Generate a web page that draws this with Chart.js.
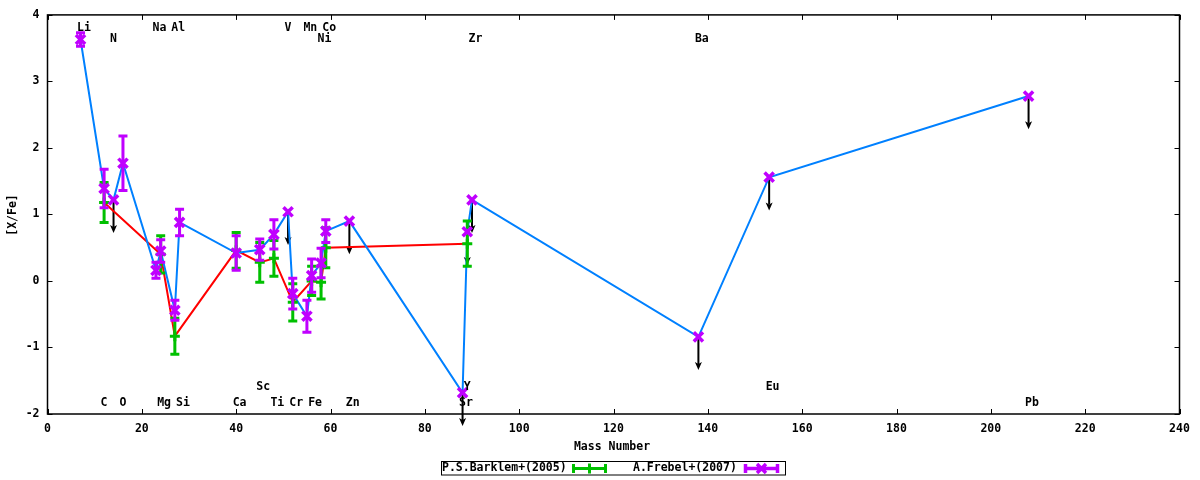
<!DOCTYPE html>
<html><head><meta charset="utf-8">
<script src="https://cdn.jsdelivr.net/npm/chart.js@4/dist/chart.umd.min.js"></script>
<style>html,body{margin:0;padding:0;background:#fff;overflow:hidden}#wrap{width:1200px;height:480px}</style>
</head><body><div id="wrap"><canvas id="c" width="1200" height="480"></canvas></div>
<script>
// ---- data ----
const frebelMass  = [7, 12, 14, 16, 23, 24, 27, 28, 40, 45, 48, 51, 52, 55, 56, 58, 59, 64, 88, 89, 90, 138, 153, 208];
const frebelVal   = [3.63, 1.39, 1.22, 1.77, 0.16, 0.45, -0.44, 0.88, 0.42, 0.47, 0.70, 1.04, -0.19, -0.53, 0.08, 0.27, 0.75, 0.90, -1.68, 0.74, 1.22, -0.84, 1.56, 2.78];
const frebelErr   = [0.10, 0.29, 0, 0.41, 0.12, 0.17, 0.15, 0.20, 0.26, 0.16, 0.22, 0, 0.23, 0.24, 0.25, 0.22, 0.17, 0, 0, 0, 0, 0, 0, 0];
const frebelUpper = [0, 0, 1, 0, 0, 0, 0, 0, 0, 0, 0, 1, 0, 0, 0, 0, 0, 1, 1, 1, 1, 1, 1, 1];

const barklemMass = [12, 24, 27, 40, 45, 48, 52, 56, 58, 59, 89];
const barklemVal  = [1.18, 0.40, -0.83, 0.46, 0.28, 0.34, -0.32, 0.00, -0.02, 0.50, 0.56];
const barklemErr  = [0.30, 0.28, 0.27, 0.27, 0.30, 0.27, 0.28, 0.22, 0.25, 0.30, 0.34];

const labelText = ['Li','Na','Al','V','Mn','Co','N','Ni','Zr','Ba','Sc','Y','Eu','C','O','Mg','Si','Ca','Ti','Cr','Fe','Zn','Sr','Pb'];
const labelMass = [7, 23, 27, 51, 55, 59, 14, 58, 90, 138, 45, 89, 153, 12, 16, 24, 28, 40, 48, 52, 56, 64, 88, 208];
const labelRow  = [0, 0, 0, 0, 0, 0, 1, 1, 1, 1, 2, 2, 2, 3, 3, 3, 3, 3, 3, 3, 3, 3, 3, 3];

const xTicks = [0, 20, 40, 60, 80, 100, 120, 140, 160, 180, 200, 220, 240];
const yTicks = [-2, -1, 0, 1, 2, 3, 4];
const upperLimitLength = 0.5;

// ---- styles ----
const FONT_FAMILY = '"DejaVu Sans Mono", monospace';
const FONT = 'bold 11.5px ' + FONT_FAMILY;
const C_RED = '#ff0000', C_GREEN = '#00c000', C_BLUE = '#0080ff', C_PURPLE = '#c000ff';
const ROW_Y = [3.81, 3.63, -1.60, -1.84];

const frebelPts = frebelMass.map((m, i) => ({x: m, y: frebelVal[i]}));
const barklemPts = barklemMass.map((m, i) => ({x: m, y: barklemVal[i]}));

const deco = {
  id: 'deco',
  beforeDatasetsDraw(chart) {
    const {ctx} = chart, xs = chart.scales.x, ys = chart.scales.y;
    ctx.save();
    ctx.strokeStyle = '#000'; ctx.fillStyle = '#000'; ctx.lineWidth = 2;
    frebelMass.forEach((m, i) => {
      if (!frebelUpper[i]) return;
      const X = xs.getPixelForValue(m);
      const y0 = ys.getPixelForValue(frebelVal[i]);
      const y1 = ys.getPixelForValue(frebelVal[i] - upperLimitLength);
      ctx.beginPath(); ctx.moveTo(X, y0); ctx.lineTo(X, y1 - 6); ctx.stroke();
      ctx.beginPath(); ctx.moveTo(X, y1); ctx.lineTo(X - 3.5, y1 - 8); ctx.lineTo(X, y1 - 6); ctx.lineTo(X + 3.5, y1 - 8); ctx.closePath(); ctx.fill();
    });
    ctx.restore();
  },
  beforeDatasetDraw(chart, args) {
    const ds = chart.data.datasets[args.index];
    if (!ds.errs) return;
    const {ctx} = chart, xs = chart.scales.x, ys = chart.scales.y;
    ctx.save();
    ctx.strokeStyle = ds.borderColor; ctx.lineWidth = 3; ctx.lineCap = 'butt';
    ds.data.forEach((p, i) => {
      const e = ds.errs[i]; if (!e) return;
      const X = xs.getPixelForValue(p.x);
      const a = ys.getPixelForValue(p.y + e), b = ys.getPixelForValue(p.y - e);
      ctx.beginPath();
      ctx.moveTo(X, a); ctx.lineTo(X, b);
      ctx.moveTo(X - 4.5, a); ctx.lineTo(X + 4.5, a);
      ctx.moveTo(X - 4.5, b); ctx.lineTo(X + 4.5, b);
      ctx.stroke();
    });
    ctx.restore();
  },
  afterDraw(chart) {
    const {ctx, chartArea: ca} = chart, xs = chart.scales.x, ys = chart.scales.y;
    ctx.save();
    // ticks (inward, mirrored)
    ctx.strokeStyle = '#000'; ctx.lineWidth = 1;
    ctx.beginPath();
    xTicks.forEach(v => { const X = Math.round(xs.getPixelForValue(v)) + 0.5;
      ctx.moveTo(X, ca.bottom); ctx.lineTo(X, ca.bottom - 5);
      ctx.moveTo(X, ca.top); ctx.lineTo(X, ca.top + 5); });
    yTicks.forEach(v => { const Y = Math.round(ys.getPixelForValue(v)) + 0.5;
      ctx.moveTo(ca.left, Y); ctx.lineTo(ca.left + 5, Y);
      ctx.moveTo(ca.right, Y); ctx.lineTo(ca.right - 5, Y); });
    ctx.stroke();
    // border
    ctx.lineWidth = 1.5;
    ctx.strokeRect(ca.left, ca.top, ca.right - ca.left, ca.bottom - ca.top);
    // element labels
    ctx.font = FONT; ctx.fillStyle = '#000'; ctx.textBaseline = 'middle'; ctx.textAlign = 'left';
    labelText.forEach((t, i) => {
      ctx.fillText(t, xs.getPixelForValue(labelMass[i]) - 3.5, ys.getPixelForValue(ROW_Y[labelRow[i]]));
    });
    // axis titles
    ctx.textAlign = 'center';
    ctx.fillText('Mass Number', 612, 447);
    ctx.save(); ctx.translate(13, 215); ctx.rotate(-Math.PI / 2); ctx.fillText('[X/Fe]', 0, 0); ctx.restore();
    // legend
    ctx.lineWidth = 1; ctx.strokeStyle = '#000';
    ctx.strokeRect(441.5, 461.5, 344, 13.5);
    ctx.textAlign = 'left';
    ctx.fillText('P.S.Barklem+(2005)', 442, 468.5);
    ctx.fillText('A.Frebel+(2007)', 633, 468.5);
    const sample = (x0, x1, col, plus) => {
      const y = 468.5, xm = (x0 + x1) / 2;
      ctx.strokeStyle = col; ctx.lineWidth = 3;
      ctx.beginPath();
      ctx.moveTo(x0, y); ctx.lineTo(x1, y);
      ctx.moveTo(x0 + 1.5, y - 4.5); ctx.lineTo(x0 + 1.5, y + 4.5);
      ctx.moveTo(x1 - 1.5, y - 4.5); ctx.lineTo(x1 - 1.5, y + 4.5);
      if (plus) { ctx.moveTo(xm, y - 5); ctx.lineTo(xm, y + 5); }
      else { ctx.lineWidth = 3.5; ctx.moveTo(xm - 4.5, y - 4.5); ctx.lineTo(xm + 4.5, y + 4.5); ctx.moveTo(xm - 4.5, y + 4.5); ctx.lineTo(xm + 4.5, y - 4.5); }
      ctx.stroke();
    };
    sample(572, 607, C_GREEN, true);
    sample(744, 779, C_PURPLE, false);
    ctx.restore();
  }
};

new Chart(document.getElementById('c'), {
  type: 'scatter',
  data: { datasets: [
    { label: 'A.Frebel+(2007)', data: frebelPts, errs: frebelErr, pointStyle: 'crossRot', pointRadius: 6.5,
      borderColor: C_PURPLE, backgroundColor: C_PURPLE, borderWidth: 3.5, showLine: false },
    { label: 'P.S.Barklem+(2005)', data: barklemPts, errs: barklemErr, pointStyle: 'cross', pointRadius: 5,
      borderColor: C_GREEN, backgroundColor: C_GREEN, borderWidth: 3, showLine: false },
    { label: 'frebel line', data: frebelPts, showLine: true, borderColor: C_BLUE, borderWidth: 2, pointRadius: 0, tension: 0, fill: false },
    { label: 'barklem line', data: barklemPts, showLine: true, borderColor: C_RED, borderWidth: 2, pointRadius: 0, tension: 0, fill: false }
  ]},
  options: {
    responsive: false, animation: false, devicePixelRatio: 1, events: [],
    layout: { padding: { top: 14, right: 20.5, left: 0, bottom: 0 } },
    plugins: { legend: { display: false }, tooltip: { enabled: false } },
    scales: {
      x: { type: 'linear', min: 0, max: 240,
        afterFit: s => { s.height = 66; },
        afterBuildTicks: s => { s.ticks = xTicks.map(v => ({value: v})); },
        grid: { display: false, drawTicks: false }, border: { display: false },
        ticks: { autoSkip: false, maxRotation: 0, padding: 8, color: '#000', font: { family: FONT_FAMILY, size: 11.5, weight: 'bold' } } },
      y: { type: 'linear', min: -2, max: 4,
        afterFit: s => { s.width = 47.5; },
        afterBuildTicks: s => { s.ticks = yTicks.map(v => ({value: v})); },
        grid: { display: false, drawTicks: false }, border: { display: false },
        ticks: { padding: 8, color: '#000', font: { family: FONT_FAMILY, size: 11.5, weight: 'bold' } } }
    }
  },
  plugins: [deco]
});
</script></body></html>
